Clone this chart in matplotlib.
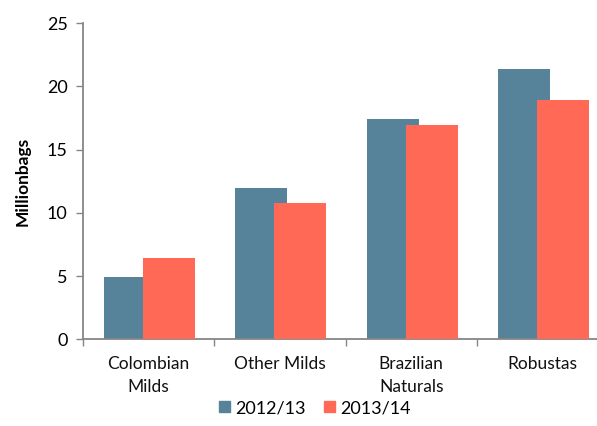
import matplotlib
matplotlib.use('Agg')
import matplotlib.pyplot as plt
import numpy as np
from matplotlib.patches import Patch

categories = ['Colombian\nMilds', 'Other Milds', 'Brazilian\nNaturals', 'Robustas']
series_names = ['2012/13', '2013/14']
values_1213 = [4.9, 11.95, 17.4, 21.4]
values_1314 = [6.4, 10.75, 16.9, 18.9]
colors = ['#56829A', '#FF6955']

plt.rcParams['font.family'] = ['Lato', 'DejaVu Sans']

fig = plt.figure(figsize=(5.97, 4.26), dpi=100)
ax = fig.add_axes([0.139, 0.2035, 0.861, 0.7425])

x = np.arange(len(categories))
w = 0.397
ax.bar(x - 0.141, values_1213, w, color=colors[0], zorder=2)
ax.bar(x + 0.156, values_1314, w, color=colors[1], zorder=3)

ax.set_ylim(0, 25)
ax.set_yticks(range(0, 26, 5))
ax.set_xlim(-0.5, 3.416)
ax.set_xticks(x)
ax.set_xticklabels(categories, fontsize=12.5, linespacing=1.55, color='#111111')
ax.set_xticks(np.arange(-0.5, 3.5, 1), minor=True)
ax.tick_params(axis='x', which='major', length=0, pad=12)
ax.tick_params(axis='x', which='minor', length=5, color='#868686', width=1)
ax.tick_params(axis='y', length=5, color='#868686', width=1, labelsize=13, pad=6)

for s in ['top', 'right']:
    ax.spines[s].set_visible(False)
for s in ['left', 'bottom']:
    ax.spines[s].set_color('#868686')
    ax.spines[s].set_linewidth(1.3)

ax.set_ylabel('Millionbags', fontsize=12.5, fontweight='bold', labelpad=12)

handles = [Patch(color=c, label=n) for c, n in zip(colors, series_names)]
fig.legend(handles=handles, loc='center', bbox_to_anchor=(0.528, 0.042), ncol=2,
           frameon=False, fontsize=13, handlelength=0.6, handleheight=0.6,
           handletextpad=0.3, columnspacing=1.0)

fig.savefig('out.png', dpi=100)
